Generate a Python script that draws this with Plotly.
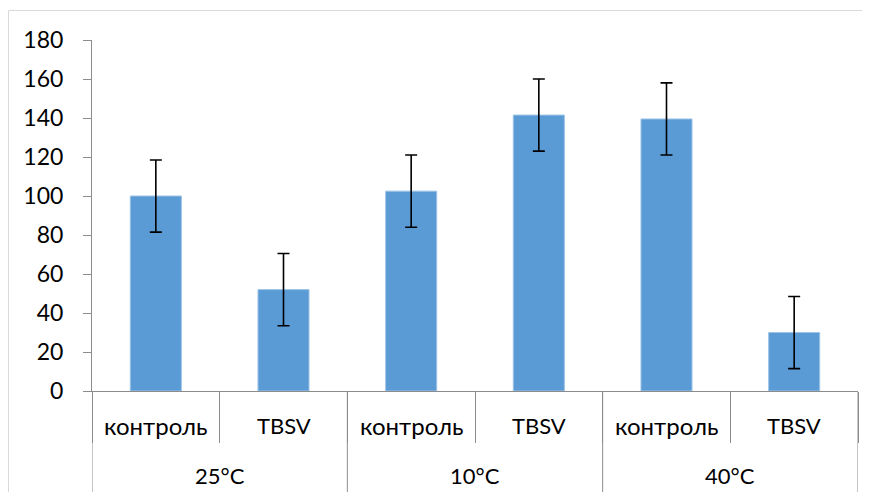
import plotly.graph_objects as go

groups = ["25°C", "10°C", "40°C"]
subcats = ["контроль", "TBSV", "контроль", "TBSV", "контроль", "TBSV"]
values = [100, 52, 102.5, 141.5, 139.5, 30]
errors = [18.5, 18.5, 18.5, 18.5, 18.5, 18.5]
y_ticks = [0, 20, 40, 60, 80, 100, 120, 140, 160, 180]

FONT = "Lato, Carlito, 'Noto Sans', sans-serif"
AXIS_COLOR = "#8c8c8c"
n = len(subcats)
xs = list(range(n))

fig = go.Figure()
fig.add_trace(go.Bar(
    x=xs, y=values, width=0.4,
    marker=dict(color="#5B9BD5", line=dict(color="#9dc3e6", width=1)),
    error_y=dict(type="data", array=errors, visible=True,
                 color="#000000", thickness=1.6, width=6),
    hoverinfo="skip",
))

# figure is placed at (8, 8) in the page by the default body margin
W, H = 854, 484
L, T = 84, 32
R = W - 850
B = H - 383
ph = H - T - B
pw = W - L - R

shapes = []
# group dividers extending to bottom
for b in [-0.5, 1.5, 3.5, 5.5]:
    shapes.append(dict(type="line", xref="x", yref="paper", x0=b, x1=b,
                       y0=0, y1=-(B + 5) / ph, line=dict(color=AXIS_COLOR, width=1)))
# chart border (light gray)
shapes.append(dict(type="rect", xref="paper", yref="paper",
                   x0=(0.5 - L) / pw, x1=(W + 20 - L) / pw,
                   y0=-(B + 20) / ph, y1=1 + (T - 2.5) / ph,
                   line=dict(color="#d9d9d9", width=1), layer="below"))

annotations = []
for i, s in enumerate(subcats):
    annotations.append(dict(x=i, y=0, xref="x", yref="paper", text=s,
                            showarrow=False, yanchor="middle", yshift=-34,
                            font=dict(family=FONT, size=24 if s == "контроль" else 22,
                                      color="#000000")))
for g_i, g in enumerate(groups):
    annotations.append(dict(x=2 * g_i + 0.5, y=0, xref="x", yref="paper", text=g,
                            showarrow=False, yanchor="middle", yshift=-84,
                            font=dict(family=FONT, size=22, color="#000000")))

fig.update_layout(
    width=W, height=H,
    margin=dict(l=L, r=R, t=T, b=B),
    paper_bgcolor="white", plot_bgcolor="white",
    showlegend=False,
    shapes=shapes, annotations=annotations,
    font=dict(family=FONT, size=22, color="#000000"),
)
fig.update_xaxes(
    range=[-0.5, n - 0.5],
    tickmode="array", tickvals=[i - 0.5 for i in range(n + 1)],
    ticks="outside", ticklen=51, tickcolor=AXIS_COLOR, tickwidth=1,
    showticklabels=False, showgrid=False, zeroline=False,
    showline=True, linecolor=AXIS_COLOR, linewidth=1,
)
fig.update_yaxes(
    range=[0, 180], tickmode="array", tickvals=y_ticks,
    ticks="outside", ticklen=8, tickcolor=AXIS_COLOR, tickwidth=1,
    ticklabelstandoff=15,
    showgrid=False, zeroline=False,
    showline=True, linecolor=AXIS_COLOR, linewidth=1,
    tickfont=dict(family=FONT, size=23, color="#000000"),
)

fig.write_html("out.html")
